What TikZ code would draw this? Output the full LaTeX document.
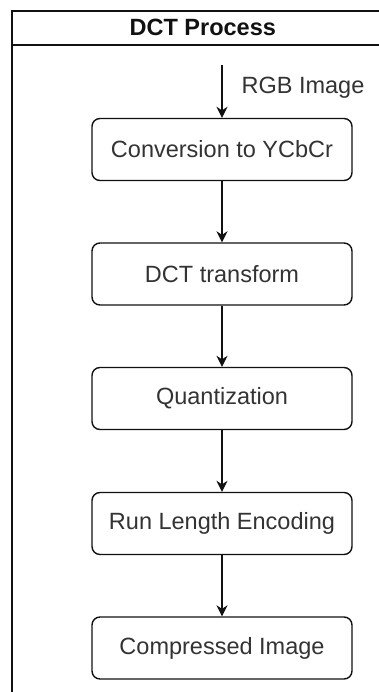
\documentclass[tikz,border=0pt]{standalone}
\usepackage{fontspec}
\setmainfont{Liberation Sans}
\usepackage{tikz}
\usetikzlibrary{arrows.meta,positioning}
\definecolor{LineBlack}{HTML}{111111}
\definecolor{TextGrey}{HTML}{333333}

\begin{document}
\begin{tikzpicture}[x=1pt,y=-1pt,
        lane/.style={draw=LineBlack,line width=1.6pt,anchor=north west,
                     minimum width=382pt,minimum height=720pt},
        header/.style={draw=LineBlack,line width=1.6pt,anchor=north west,
                       minimum width=382pt,minimum height=34pt,
                       font=\fontsize{23.5}{28}\selectfont\bfseries,text=LineBlack},
        box/.style={draw=LineBlack,line width=1.4pt,rounded corners=8pt,fill=white,
                    minimum width=260pt,minimum height=62pt,align=center,
                    font=\fontsize{23.5}{28}\selectfont,text=TextGrey},
        arr/.style={draw=LineBlack,line width=1.4pt,-{Stealth[length=11pt,width=11pt]}},
        lbl/.style={font=\fontsize{23.5}{28}\selectfont,text=TextGrey,inner sep=0pt}]
      \useasboundingbox (0,0) rectangle (379,692);
      \clip (0,0) rectangle (379,692);
      \fill[white] (0,0) rectangle (379,692);
      \node[lane]   (pool)  at (11,10) {};
      \node[header] (title) at (11,10) {DCT Process};
      \coordinate (in) at (222,65);
      \node[box] (ycbcr)  at (222,149.5) {Conversion to YCbCr};
      \node[box] (dct)    at (222,274)   {DCT transform};
      \node[box] (quant)  at (222,398.5) {Quantization};
      \node[box] (rle)    at (222,523.5) {Run Length Encoding};
      \node[box] (out)    at (222,648)   {Compressed Image};
      \node[lbl] (rgb)    at (303,88)    {RGB Image};
      \draw[arr] (in)    -- (ycbcr);
      \draw[arr] (ycbcr) -- (dct);
      \draw[arr] (dct)   -- (quant);
      \draw[arr] (quant) -- (rle);
      \draw[arr] (rle)   -- (out);
    \end{tikzpicture}
\end{document}
